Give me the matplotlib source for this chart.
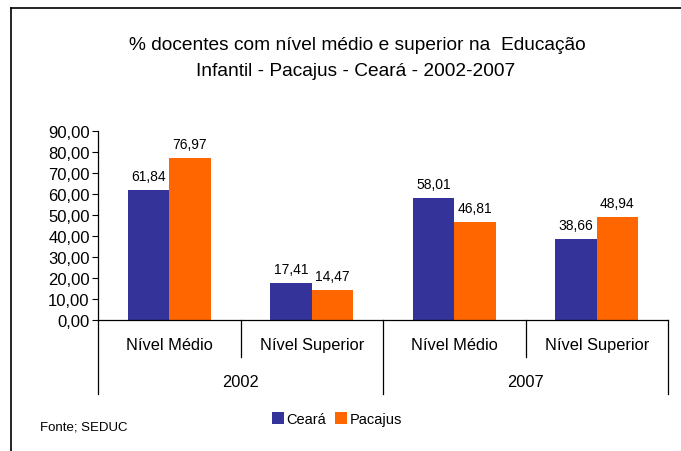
import matplotlib.pyplot as plt
from matplotlib.lines import Line2D
from matplotlib.patches import Patch
from matplotlib.ticker import FuncFormatter
import numpy as np

plt.rcParams["font.family"] = ["Liberation Sans", "DejaVu Sans"]

years = ["2002", "2007"]
levels = ["Nível Médio", "Nível Superior"]
series = ["Ceará", "Pacajus"]
ceara = [61.84, 17.41, 58.01, 38.66]
pacajus = [76.97, 14.47, 46.81, 48.94]
colors = ["#333399", "#FF6600"]

fig = plt.figure(figsize=(6.81, 4.52), dpi=100)
fig.patch.set_facecolor("white")
ax = fig.add_axes([98 / 681, 1 - 321 / 452, 570 / 681, 189 / 452])

x = np.arange(4) + 0.5
w = 0.29
b1 = ax.bar(x - w / 2, ceara, w, color=colors[0])
b2 = ax.bar(x + w / 2, pacajus, w, color=colors[1])

for bars, vals in ((b1, ceara), (b2, pacajus)):
    for rect, v in zip(bars, vals):
        ax.annotate(f"{v:.2f}".replace(".", ","),
                    (rect.get_x() + rect.get_width() / 2, v),
                    xytext=(0, 5), textcoords="offset points",
                    ha="center", va="bottom", fontsize=10)

ax.set_xlim(0, 4)
ax.set_ylim(0, 90)
ax.set_yticks(np.arange(0, 91, 10))
ax.yaxis.set_major_formatter(FuncFormatter(lambda v, p: f"{v:.2f}".replace(".", ",")))
ax.tick_params(axis="y", labelsize=12, length=4, width=0.8, direction="out", pad=2)
ax.set_xticks([])
for s in ("top", "right"):
    ax.spines[s].set_visible(False)
for s in ("left", "bottom"):
    ax.spines[s].set_linewidth(0.9)

# hierarchical category axis
trans = ax.get_xaxis_transform()
for i in range(5):
    low = -0.39 if i % 2 == 0 else -0.196
    ax.add_line(Line2D([i, i], [0, low], transform=trans, color="black",
                       lw=0.9, clip_on=False))
for i, c in enumerate(x):
    ax.text(c, -0.132, levels[i % 2], transform=trans, ha="center",
            va="center", fontsize=11.8)
for j, yr in enumerate(years):
    ax.text(2 * j + 1, -0.323, yr, transform=trans, ha="center",
            va="center", fontsize=11.8)

fig.text(357 / 681, 1 - 45 / 452,
         "% docentes com nível médio e superior na  Educação",
         ha="center", va="center", fontsize=13.8)
fig.text(356 / 681, 1 - 72 / 452,
         "Infantil - Pacajus - Ceará - 2002-2007",
         ha="center", va="center", fontsize=13.8)

handles = [Patch(facecolor=c) for c in colors]
fig.legend(handles, series, loc="center", bbox_to_anchor=(337 / 681, 1 - 420 / 452),
           ncol=2, frameon=False, fontsize=10.5, handlelength=0.8,
           handleheight=0.9, handletextpad=0.2, columnspacing=0.6)

fig.text(40 / 681, 1 - 428 / 452, "Fonte; SEDUC", ha="left", va="center",
         fontsize=9.5)

# chart border (top and left visible)
fig.add_artist(Line2D([11 / 681, 1.0], [1 - 9 / 452, 1 - 9 / 452],
                      transform=fig.transFigure, color="black", lw=1.2))
fig.add_artist(Line2D([11 / 681, 11 / 681], [1 - 9 / 452, 0.0],
                      transform=fig.transFigure, color="black", lw=1.2))

fig.savefig("out.png", dpi=100)
